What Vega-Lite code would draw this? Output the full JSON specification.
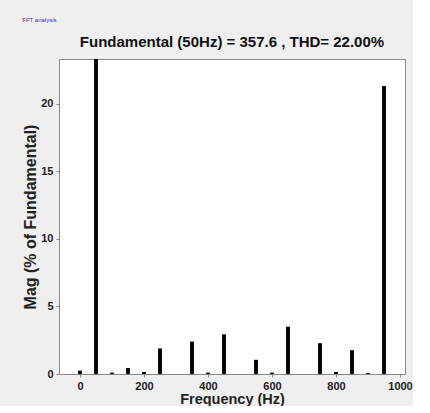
{
  "$schema": "https://vega.github.io/schema/vega-lite/v6.json",
  "background": "#efefef",
  "padding": {"left": 22, "top": 16, "right": 0, "bottom": 0},
  "title": {"text": "FFT analysis", "anchor": "start", "fontSize": 6, "font": "Liberation Sans", "fontWeight": "normal", "color": "#3030c0", "offset": 12, "dx": 0},
  "config": {
    "view": {"fill": "white", "stroke": "#888888", "strokeWidth": 1},
    "axis": {
      "labelFont": "Liberation Sans", "labelFontWeight": "bold", "labelFontSize": 11, "labelColor": "#222222",
      "titleFont": "Liberation Sans", "titleFontWeight": "bold", "titleFontSize": 14.5, "titleColor": "#222222",
      "domain": false, "grid": false, "tickColor": "#888888", "tickSize": 3
    }
  },
  "vconcat": [
    {
      "width": 346,
      "height": 315,
      "title": {"text": "Fundamental (50Hz) = 357.6 , THD= 22.00%", "font": "Liberation Sans", "fontSize": 15, "fontWeight": "bold", "color": "#111111", "offset": 9},
      "data": {"values": [
        {"f": 0, "mag": 0.25},
        {"f": 50, "mag": 100},
        {"f": 100, "mag": 0.1},
        {"f": 150, "mag": 0.44},
        {"f": 200, "mag": 0.15},
        {"f": 250, "mag": 1.89},
        {"f": 350, "mag": 2.4},
        {"f": 400, "mag": 0.1},
        {"f": 450, "mag": 2.94},
        {"f": 550, "mag": 1.05},
        {"f": 600, "mag": 0.1},
        {"f": 650, "mag": 3.5},
        {"f": 750, "mag": 2.28},
        {"f": 800, "mag": 0.15},
        {"f": 850, "mag": 1.76},
        {"f": 900, "mag": 0.08},
        {"f": 950, "mag": 21.3}
      ]},
      "mark": {"type": "bar", "width": 3.8, "color": "#000000", "clip": true},
      "encoding": {
        "x": {"field": "f", "type": "quantitative", "title": "Frequency (Hz)",
          "scale": {"domain": [-50, 1000], "nice": false, "zero": false},
          "axis": {"values": [0, 200, 400, 600, 800, 1000], "format": "d", "titlePadding": 1, "labelPadding": 3}},
        "y": {"field": "mag", "type": "quantitative", "title": "Mag (% of Fundamental)",
          "scale": {"domain": [0, 23.3], "nice": false},
          "axis": {"values": [0, 5, 10, 15, 20], "titlePadding": 2, "labelPadding": 3, "titleFontSize": 16}}
      }
    }
  ]
}
